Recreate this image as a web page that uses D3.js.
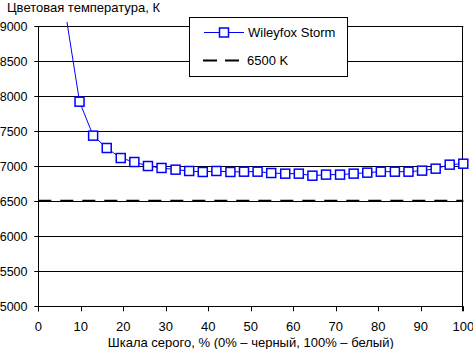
<!DOCTYPE html>
<html><head><meta charset="utf-8">
<script src="https://cdn.jsdelivr.net/npm/d3@7"></script>
<style>body{margin:0;background:#fff}svg{display:block}text{font-family:"Liberation Sans",Arial,sans-serif}</style>
</head><body><svg id="c" width="473" height="349"></svg>
<script>
const grayLevels = [6.5, 9.7, 12.9, 16.1, 19.4, 22.6, 25.8, 29.0, 32.3, 35.5, 38.7, 41.9, 45.2, 48.4, 51.6, 54.8, 58.1, 61.3, 64.5, 67.7, 71.0, 74.2, 77.4, 80.6, 83.9, 87.1, 90.3, 93.5, 96.8, 100];
const tempValues = [9150, 7920, 7435, 7259, 7116, 7059, 7002, 6974, 6950, 6931, 6917, 6931, 6917, 6921, 6921, 6902, 6893, 6893, 6864, 6879, 6879, 6893, 6907, 6921, 6921, 6921, 6936, 6964, 7021, 7035];
const referenceTemp = 6500;
const xTicks = [0,10,20,30,40,50,60,70,80,90,100];
const yTicks = [5000,5500,6000,6500,7000,7500,8000,8500,9000];
const seriesName = "Wileyfox Storm";
const refName = "6500 K";
const yTitle = "Цветовая температура, К";
const xTitle = "Шкала серого, % (0% – черный, 100% – белый)";

const svg = d3.select("#c");
const L = 38.3, R = 463.3, T = 26, B = 306.3;
const x = d3.scaleLinear().domain([0,100]).range([L,R]);
const y = d3.scaleLinear().domain([5000,9000]).range([B,T]);

// gridlines
svg.append("g").selectAll("line").data(yTicks).join("line")
  .attr("x1", L-4).attr("x2", R).attr("y1", d=>Math.round(y(d))+0.5).attr("y2", d=>Math.round(y(d))+0.5)
  .attr("stroke","#000").attr("stroke-width",1);
// y labels
svg.append("g").selectAll("text").data(yTicks).join("text")
  .attr("x", 27.5).attr("y", d=>y(d)+5).attr("text-anchor","end")
  .attr("font-size","12.5px").attr("fill","#000").text(d=>d);
// axes lines
svg.append("line").attr("x1",Math.round(L)+0.5).attr("x2",Math.round(L)+0.5).attr("y1",T).attr("y2",B+5).attr("stroke","#000");
svg.append("line").attr("x1",Math.round(R)-0.5).attr("x2",Math.round(R)-0.5).attr("y1",T).attr("y2",B+5).attr("stroke","#000");
// x ticks
svg.append("g").selectAll("line").data(xTicks).join("line")
  .attr("x1", d=>Math.round(x(d))+0.5).attr("x2", d=>Math.round(x(d))+0.5)
  .attr("y1", B).attr("y2", B+5).attr("stroke","#000");
svg.append("g").selectAll("text").data(xTicks).join("text")
  .attr("x", d=>x(d)).attr("y", 330.5).attr("text-anchor","middle")
  .attr("font-size","13px").attr("fill","#000").text(d=>d);
// titles
svg.append("text").attr("x",7).attr("y",12).attr("font-size","13px").text(yTitle);
svg.append("text").attr("x",(L+R)/2).attr("y",347).attr("text-anchor","middle").attr("font-size","13px").text(xTitle);

// reference dashed line
svg.append("line").attr("x1",L).attr("x2",R).attr("y1",y(referenceTemp)-0.5).attr("y2",y(referenceTemp)-0.5)
  .attr("stroke","#000").attr("stroke-width",2).attr("stroke-dasharray","13,9");

// clip
svg.append("clipPath").attr("id","clp").append("rect").attr("x",L-6).attr("y",T-4).attr("width",R-L+12).attr("height",B-T+4);
const data = grayLevels.map((g,i)=>({g, v:tempValues[i]}));
const gS = svg.append("g").attr("clip-path","url(#clp)");
gS.append("path").datum(data).attr("fill","none").attr("stroke","#0000ff").attr("stroke-width",1)
  .attr("d", d3.line().x(d=>x(d.g)).y(d=>y(d.v)));
gS.selectAll("rect").data(data).join("rect")
  .attr("x", d=>x(d.g)-4.5).attr("y", d=>y(d.v)-4.5).attr("width",9).attr("height",9)
  .attr("fill","#fff").attr("stroke","#0000ff").attr("stroke-width",1.5);

// legend
const lg = svg.append("g");
lg.append("rect").attr("x",189.5).attr("y",17.5).attr("width",158).attr("height",59).attr("fill","#fff").attr("stroke","#000");
lg.append("line").attr("x1",204).attr("x2",244).attr("y1",32.5).attr("y2",32.5).attr("stroke","#0000ff");
lg.append("rect").attr("x",219.5).attr("y",28).attr("width",9).attr("height",9).attr("fill","#fff").attr("stroke","#0000ff").attr("stroke-width",1.5);
lg.append("text").attr("x",248).attr("y",37).attr("font-size","13px").text(seriesName);
lg.append("line").attr("x1",203).attr("x2",240).attr("y1",60.5).attr("y2",60.5).attr("stroke","#000").attr("stroke-width",2).attr("stroke-dasharray","14,8");
lg.append("text").attr("x",247).attr("y",65).attr("font-size","13px").text(refName);
</script></body></html>
